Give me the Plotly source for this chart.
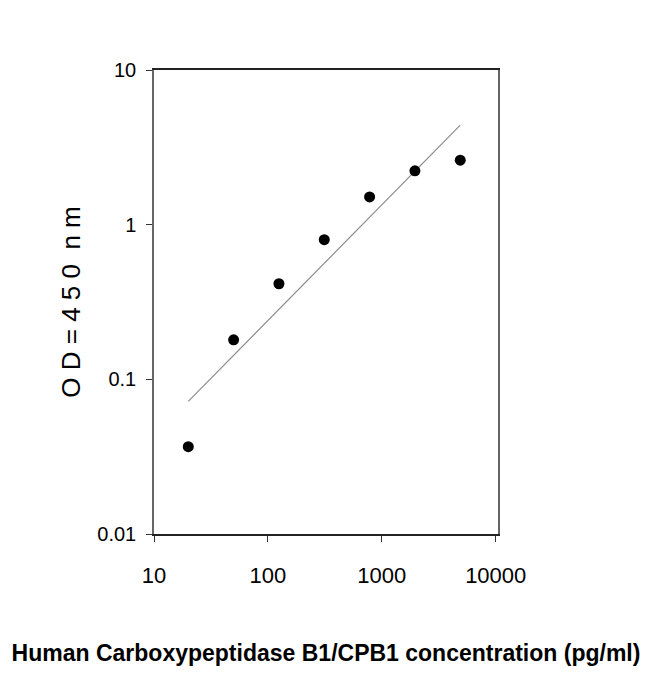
import plotly.graph_objects as go

# standard curve points (2.5-fold dilution series)
conc = [20, 50, 125, 312.5, 781.25, 1953.1, 4882.8]
od = [0.0367, 0.18, 0.415, 0.80, 1.51, 2.23, 2.61]

# fitted line end points
fit_x = [20, 4882.8]
fit_y = [0.072, 4.4]

x_ticks = [10, 100, 1000, 10000]
x_labels = ["10", "100", "1000", "10000"]
y_ticks = [0.01, 0.1, 1, 10]
y_labels = ["0.01", "0.1", "1", "10"]

fig = go.Figure()

fig.add_trace(go.Scatter(
    x=fit_x, y=fit_y, mode="lines",
    line=dict(color="#8c8c8c", width=1.2),
    showlegend=False, hoverinfo="skip",
))

fig.add_trace(go.Scatter(
    x=conc, y=od, mode="markers",
    marker=dict(color="black", size=11),
    showlegend=False,
))

fig.update_layout(
    width=650, height=674,
    margin=dict(l=146, r=160, t=62, b=148),
    paper_bgcolor="white", plot_bgcolor="white",
    font=dict(family="Liberation Sans, Arial, sans-serif", color="black"),
)

fig.update_xaxes(
    type="log", range=[1, 4.02],
    tickvals=x_ticks, ticktext=x_labels,
    tickfont=dict(size=22),
    ticks="outside", ticklen=6, tickcolor="#333",
    ticklabelstandoff=15,
    showline=True, linecolor="#222", linewidth=1.5, mirror=True,
    showgrid=False, zeroline=False,
    title=dict(
        text="<b>Human Carboxypeptidase B1/CPB1 concentration (pg/ml)</b>",
        font=dict(size=23),
        standoff=58,
    ),
)

fig.update_yaxes(
    type="log", range=[-2, 1],
    tickvals=y_ticks, ticktext=y_labels,
    tickfont=dict(size=20),
    ticks="outside", ticklen=6, tickcolor="#333",
    ticklabelstandoff=6,
    showline=True, linecolor="#666", linewidth=1.5, mirror=True,
    showgrid=False, zeroline=False,
    title=dict(
        text="O D = 4 5 0  n m",
        font=dict(size=26),
        standoff=9,
    ),
)

fig.write_html("out.html")
